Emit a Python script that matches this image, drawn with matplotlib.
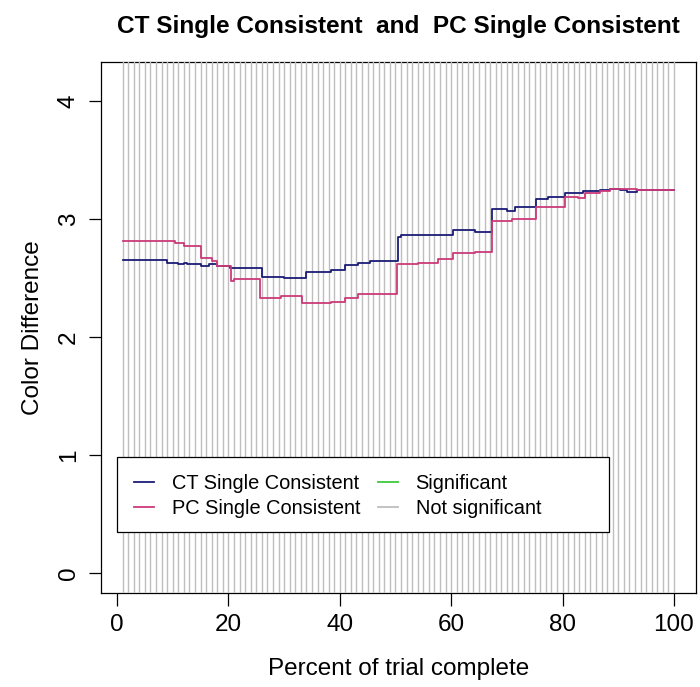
import numpy as np
import matplotlib.pyplot as plt
from matplotlib.patches import Rectangle

plt.rcParams['font.family'] = ['Liberation Sans', 'DejaVu Sans']

# step change points (percent of trial) and colour difference values
ct_x = [1, 9, 11, 12, 12.5, 15, 16.5, 18, 20.3, 26, 30, 34, 38.5, 41, 43.3, 45.4,
        50.5, 51, 57.5, 60.4, 64.3, 67.3, 70, 71.5, 75.3, 77.4, 80.4, 83.7, 86.7,
        88.5, 90.3, 91.5, 93.3, 100]
ct_y = [2.65, 2.63, 2.615, 2.63, 2.615, 2.60, 2.615, 2.60, 2.58, 2.51, 2.50, 2.55,
        2.57, 2.61, 2.63, 2.645, 2.85, 2.86, 2.865, 2.91, 2.89, 3.08, 3.07, 3.10,
        3.165, 3.19, 3.22, 3.24, 3.245, 3.255, 3.245, 3.23, 3.245, 3.245]

pc_x = [1, 10.5, 12, 15, 17, 18, 20.5, 21, 25.7, 29.5, 33.3, 38.5, 41, 43.3, 50.3,
        54, 57.7, 60.4, 64.3, 67.3, 71, 75.3, 80.4, 82.8, 84, 86.7, 88.5, 91.5,
        93.3, 100]
pc_y = [2.81, 2.795, 2.77, 2.67, 2.64, 2.60, 2.47, 2.49, 2.33, 2.35, 2.285, 2.30,
        2.33, 2.36, 2.62, 2.63, 2.66, 2.71, 2.72, 2.98, 3.00, 3.10, 3.19, 3.18,
        3.22, 3.24, 3.25, 3.255, 3.245, 3.245]

percents = np.arange(1, 101)
significant_pct = []  # no percent reached significance

CT_COL = '#1c1c78'
PC_COL = '#cc3a78'
SIG_COL = '#3ccc3c'
NS_COL = '#bebebe'

fig = plt.figure(figsize=(7, 6.87), dpi=100)
ax = fig.add_axes([0.1436, 0.1368, 0.8507, 0.773])

for p in percents:
    col = SIG_COL if p in significant_pct else NS_COL
    ax.axvline(p, color=col, lw=1.0, zorder=3)

ax.plot(ct_x, ct_y, drawstyle='steps-post', color=CT_COL, lw=1.3, zorder=4,
        label='CT Single Consistent')
ax.plot(pc_x, pc_y, drawstyle='steps-post', color=PC_COL, lw=1.3, zorder=4,
        label='PC Single Consistent')
h_sig, = ax.plot([], [], color=SIG_COL, lw=1.3, label='Significant')
h_ns, = ax.plot([], [], color=NS_COL, lw=1.3, label='Not significant')

ax.set_xlim(-2.96, 103.96)
ax.set_ylim(-0.17, 4.33)
ax.set_xticks([0, 20, 40, 60, 80, 100])
ax.set_yticks([0, 1, 2, 3, 4])
ax.tick_params(axis='both', labelsize=17.5, length=9, width=0.9, pad=6)
for lab in ax.get_yticklabels():
    lab.set_rotation(90)
    lab.set_va('center')
for s in ax.spines.values():
    s.set_linewidth(0.9)

ax.set_xlabel('Percent of trial complete', fontsize=17.5, labelpad=16)
ax.set_ylabel('Color Difference', fontsize=17.5, labelpad=10)
ax.set_title('CT Single Consistent  and  PC Single Consistent',
             fontsize=17.6, fontweight='bold', pad=21)

# legend box drawn separately so it can be wider than its contents
ax.add_patch(Rectangle((0, 0.35), 88.3, 0.635, facecolor='white',
                       edgecolor='black', lw=0.9, zorder=5))
leg = ax.legend(loc='upper left', bbox_to_anchor=(0, 0.985),
                bbox_transform=ax.transData, ncol=2, frameon=False,
                fontsize=14.4, handlelength=1.0, handletextpad=0.9,
                columnspacing=0.85, labelspacing=0.3, borderpad=0.85,
                borderaxespad=0)
leg.set_zorder(6)

fig.savefig('out.png', dpi=100)
